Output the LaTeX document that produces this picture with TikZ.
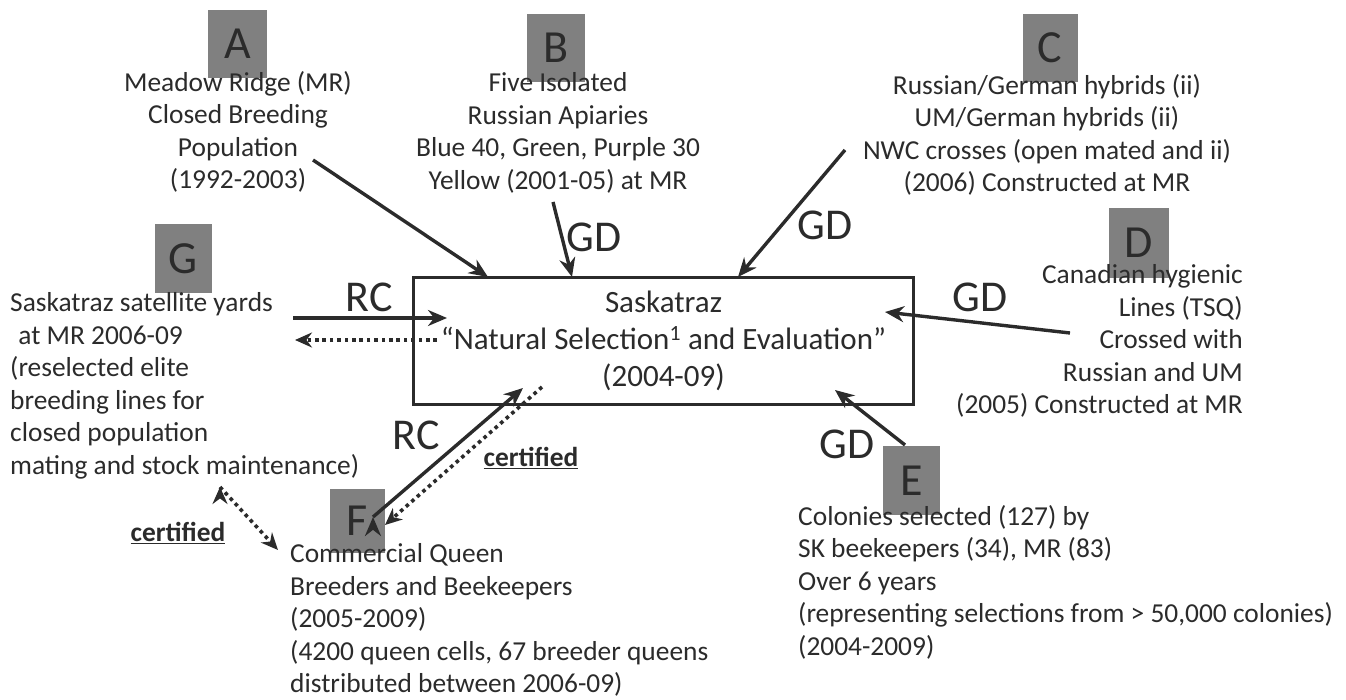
\documentclass[tikz,border=0pt]{standalone}
\usepackage{fontspec}
\setmainfont{Carlito}
\usetikzlibrary{arrows.meta}

\definecolor{boxgrey}{HTML}{808080}
\definecolor{ink}{HTML}{2B2B2B}

\tikzset{
  letterbox/.style={fill=boxgrey,inner sep=0pt,text=ink,font=\fontsize{46}{46}\selectfont},
  txt/.style={text=ink,inner sep=0pt,font=\fontsize{27.4}{32.5}\selectfont},
  lbl/.style={text=ink,inner sep=0pt,font=\fontsize{44}{44}\selectfont},
  flow/.style={-{Stealth[length=19pt,width=16pt]},line width=3.4pt,draw=ink},
  certflow/.style={-{Stealth[length=17pt,width=15pt]},line width=3.6pt,draw=ink,dash pattern=on 3.6pt off 3.8pt}
}

\begin{document}
\begin{tikzpicture}[x=1pt,y=-1pt]
\useasboundingbox (0,0) rectangle (1346,700);

% grey letter boxes
\foreach \l/\x/\y/\w/\h in {A/237.5/44/59/68,B/556/48/58/68,C/1050/48/55/68,D/1139/243/60/70,E/911.5/480.5/57/69,F/357.5/521/55/64,G/183.5/258.5/57/69}
  \node[letterbox,minimum width=\w,minimum height=\h](\l) at (\x,\y){\l};

% sources
\node[txt,align=center](TA) at (238,132){Meadow Ridge (MR)\\Closed Breeding\\Population\\(1992-2003)};
\node[txt,align=center](TB) at (558,133){Five Isolated\\Russian Apiaries\\Blue 40, Green, Purple 30\\Yellow (2001-05) at MR};
\node[txt,align=center](TC) at (1047,135){Russian/German hybrids (ii)\\UM/German hybrids (ii)\\NWC crosses (open mated and ii)\\(2006) Constructed at MR};
\node[txt,align=right,anchor=east](TD) at (1243,341){Canadian hygienic\\Lines (TSQ)\\Crossed with\\Russian and UM\\(2005) Constructed at MR};
\node[txt,align=left,anchor=west](TE) at (798,582){Colonies selected (127) by\\SK beekeepers (34), MR (83)\\Over 6 years\\(representing selections from {>} 50,000 colonies)\\(2004-2009)};
\node[txt,align=left,anchor=west](TF) at (290,620){Commercial Queen\\Breeders and Beekeepers\\(2005-2009)\\(4200 queen cells, 67 breeder queens\\distributed between 2006-09)};
\node[txt,align=left,anchor=west](TG) at (10,386){Saskatraz satellite yards\\\hspace{0.3em}at MR 2006-09\\(reselected elite\\breeding lines for\\closed population\\mating and stock maintenance)};

% centre
\node[draw=ink,line width=3.6pt,minimum width=500,minimum height=127,inner sep=0pt,
      txt,font=\fontsize{31}{37}\selectfont,align=center](S) at (663.5,341)
  {Saskatraz\\“Natural Selection\textsuperscript{1} and Evaluation”\\(2004-09)};

% labels
\node[lbl](gdB) at (594,237){GD};
\node[lbl](gdC) at (825,225){GD};
\node[lbl](gdD) at (980,297){GD};
\node[lbl](gdE) at (847,444){GD};
\node[lbl](rcG) at (369,297){RC};
\node[lbl](rcF) at (416,435){RC};
\node[txt,font=\fontsize{27.4}{30}\bfseries](cert1) at (531,458){\underline{certified}};
\node[txt,font=\fontsize{27.4}{30}\bfseries](cert2) at (178,533){\underline{certified}};

% arrow ends
\coordinate (a0) at (313,160); \coordinate (a1) at (488,277);
\coordinate (b0) at (553,202); \coordinate (b1) at (572,277);
\coordinate (c0) at (845,150); \coordinate (c1) at (738,277);
\coordinate (d0) at (1070,333); \coordinate (d1) at (885,312);
\coordinate (e0) at (905,445); \coordinate (e1) at (835,390);
\coordinate (g0) at (293,318); \coordinate (g1) at (447,318);
\coordinate (g2) at (437,340); \coordinate (g3) at (295,340);
\coordinate (f0) at (373,517); \coordinate (f1) at (523,388);
\coordinate (f2) at (542,387); \coordinate (f3) at (385,525);
\coordinate (h0) at (220,487); \coordinate (h1) at (278,550);

\path [flow]
  (a0) edge (a1)
  (b0) edge (b1)
  (c0) edge (c1)
  (d0) edge (d1)
  (e0) edge (e1)
  (g0) edge (g1)
  (f0) edge (f1);

\path [certflow]
  (g2) edge (g3)
  (f2) edge (f3)
  (h0) edge (h1);
\end{tikzpicture}
\end{document}
